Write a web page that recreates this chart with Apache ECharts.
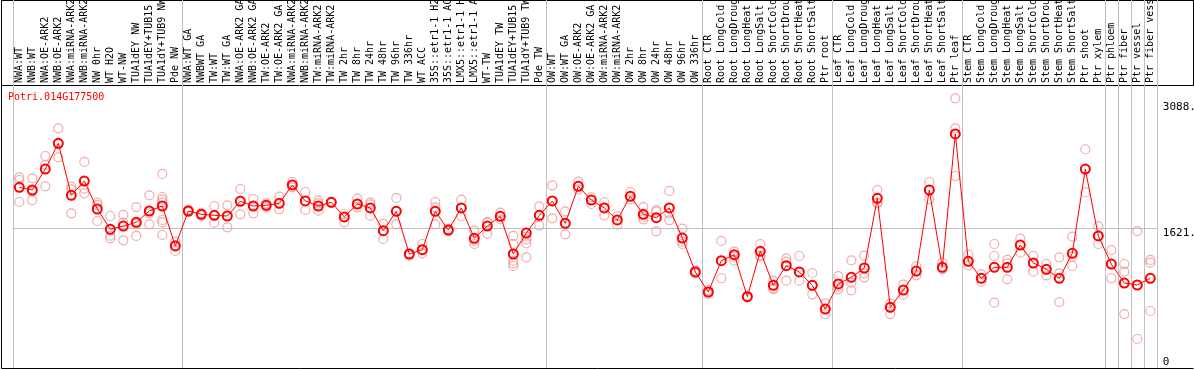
<!DOCTYPE html>
<html>
<head>
<meta charset="utf-8">
<script src="https://cdn.jsdelivr.net/npm/echarts@6/dist/echarts.min.js"></script>
<style>
html,body{margin:0;padding:0;background:#fff;}
#chart{width:1194px;height:370px;}
</style>
</head>
<body>
<div id="chart"></div>
<script>
const categories = [
 'NWA:WT','NWB:WT','NWA:OE-ARK2','NWB:OE-ARK2','NWA:miRNA-ARK2','NWB:miRNA-ARK2','NW 0hr','WT H2O','WT-NW','TUA1dEY NW','TUA1dEY+TUB15 NW','TUA1dY+TUB9 NW','Pde NW',
 'NWA:WT GA','NWBWT GA','TW:WT','TW:WT GA','NWA:OE-ARK2 GA','NWB:OE-ARK2 GA','TW:OE-ARK2','TW:OE-ARK2 GA','NWA:miRNA-ARK2','NWB:miRNA-ARK2','TW:miRNA-ARK2','TW:miRNA-ARK2',
 'TW 2hr','TW 8hr','TW 24hr','TW 48hr','TW 96hr','TW 336hr','WT ACC','35S::etr1-1 H2O','35S::etr1-1 ACC','LMX5::etr1-1 H2O','LMX5::etr1-1 ACC','WT-TW','TUA1dEY TW','TUA1dEY+TUB15 TW','TUA1dY+TUB9 TW','Pde TW',
 'OW:WT','OW:WT GA','OW:OE-ARK2','OW:OE-ARK2 GA','OW:miRNA-ARK2','OW:miRNA-ARK2','OW 2hr','OW 8hr','OW 24hr','OW 48hr','OW 96hr','OW 336hr',
 'Root CTR','Root LongCold','Root LongDrought','Root LongHeat','Root LongSalt','Root ShortCold','Root ShortDrought','Root ShortHeat','Root ShortSalt','Ptr root',
 'Leaf CTR','Leaf LongCold','Leaf LongDrought','Leaf LongHeat','Leaf LongSalt','Leaf ShortCold','Leaf ShortDrought','Leaf ShortHeat','Leaf ShortSalt','Ptr leaf',
 'Stem CTR','Stem LongCold','Stem LongDrought','Stem LongHeat','Stem LongSalt','Stem ShortCold','Stem ShortDrought','Stem ShortHeat','Stem ShortSalt','Ptr shoot','Ptr xylem',
 'Ptr phloem','Ptr fiber','Ptr vessel','Ptr fiber vessel'
];

// index of the first category of each group (separator lines drawn before them)
const groupStarts = [0, 13, 41, 53, 63, 73, 84, 85, 86, 87];

const meanValues = [
 2092, 2061, 2304, 2602, 2000, 2165, 1841, 1606, 1644, 1687,
 1818, 1876, 1413, 1818, 1780, 1768, 1760, 1930, 1876, 1884,
 1907, 2119, 1934, 1876, 1919, 1749, 1899, 1853, 1590, 1814,
 1320, 1370, 1814, 1598, 1853, 1502, 1644, 1757, 1320, 1563,
 1768, 1934, 1675, 2104, 1945, 1853, 1714, 1988, 1780, 1741,
 1853, 1505, 1112, 880, 1243, 1312, 826, 1351, 957, 1185,
 1112, 957, 683, 973, 1050, 1158, 1965, 703, 903, 1123,
 2061, 1166, 2710, 1235, 1039, 1166, 1166, 1424, 1216, 1143,
 1039, 1328, 2304, 1529, 1204, 984, 961, 1039
];

const replicateValues = [
 [2208,2177,1922],[2196,2042,1945],[2455,2351,2104],[2775,2591,2440],[2100,2069,1791],
 [2386,2077,2023],[1914,1888,1702],[1760,1532,1502],[1772,1683,1478],[1864,1668,1529],
 [2000,1791,1664],[2247,1980,1949,1919,1714,1687,1540],[1463,1420,1355],[1830,1815,1805],[1791,1783,1760],
 [1876,1760,1683],[1884,1760,1629],[2073,1937,1780],[1957,1876,1791],[1907,1884,1861],
 [1984,1907,1838],[2154,2119,2092],[2038,1934,1830],[1942,1907,1822],[1925,1919,1913],
 [1783,1749,1687],[1961,1899,1861],[1919,1895,1764],[1668,1590,1494],[1969,1814,1664],
 [1328,1320,1301],[1436,1370,1328],[1922,1861,1664],[1610,1598,1586],[1949,1853,1757],
 [1590,1475,1436],[1687,1690,1556],[1799,1757,1722],[1529,1436,1243,1212,1181],[1521,1490,1444,1282],
 [1872,1768,1648],[2115,1934,1733],[1814,1675,1548],[2158,2104,2069],[1977,1945,1899],
 [1922,1853,1768],[1760,1714,1660],[2038,1988,1953],[1864,1749,1722],[1830,1810,1583],
 [2050,1791,1710],[1613,1463,1436],[1130,1112,1095],[903,880,857],[1471,1243,1039],
 [1347,1289,1243],[834,826,818],[1436,1305,1289],[1011,926,911],[1270,1231,1011],
 [1297,1112,1011],[1100,957,853],[749,683,625],[1065,942,911],[1247,988,900],
 [1301,1096,1050],[2061,1914,1907],[749,703,625],[965,903,849],[1181,1123,1073],
 [2154,2061,1953],[1220,1166,1143],[3123,2775,2223],[1312,1235,1189],[1088,1039,1000],
 [1436,1297,756],[1251,1212,1027],[1498,1424,1335],[1297,1216,1115],[1204,1143,1073],
 [1282,1096,764],[1521,1289,1181],[2533,2304,2035],[1644,1529,1436],[1366,1204,1039],
 [1204,1115,625],[1586,961,336],[1251,1220,660]
];

const yTickValues = [0, 1621, 3088];
const yTickLabels = ['0', '1621.', '3088.'];
const referenceLine = 1621;
const yMax = 3277;
const geneName = 'Potri.014G177500';

const FONT = "'DejaVu Sans Mono', 'Liberation Mono', monospace";

const scatterData = [];
replicateValues.forEach((arr, i) => arr.forEach(v => scatterData.push([i, v])));

function tickLabel(v) {
  const i = yTickValues.indexOf(v);
  return i >= 0 ? yTickLabels[i] : '';
}

const chart = echarts.init(document.getElementById('chart'), null, {renderer: 'canvas'});
const W = 1194, H = 370;
const option = {
  animation: false,
  backgroundColor: '#ffffff',
  title: {
    text: geneName, left: 8, top: 92, padding: 0,
    textStyle: {color: '#ff0000', fontSize: 10, fontWeight: 'normal', fontFamily: FONT}
  },
  grid: [
    {left: 12.8, right: 37.2, top: 0, bottom: 2, outerBoundsMode: 'none', containLabel: false},
    {left: 12.8, right: 37.2, top: 85, bottom: 2, outerBoundsMode: 'none', containLabel: false}
  ],
  xAxis: [
    {
      gridIndex: 0, type: 'category', data: categories, boundaryGap: true,
      axisLine: {show: false}, axisTick: {show: false}, axisLabel: {show: false},
      splitLine: {show: true, interval: (idx) => groupStarts.indexOf(idx) >= 0,
                  lineStyle: {color: '#c0c0c0', width: 1}}
    },
    {
      gridIndex: 1, type: 'category', data: categories, boundaryGap: true, position: 'top',
      axisLine: {show: false}, axisTick: {show: false},
      axisLabel: {interval: 0, rotate: 90, margin: 2, fontSize: 10, fontFamily: FONT, color: '#000'},
      splitLine: {show: false}
    }
  ],
  yAxis: [
    {gridIndex: 0, type: 'value', show: false, min: 0, max: 1},
    {
      gridIndex: 1, type: 'value', position: 'right', min: 0, max: yMax,
      axisLine: {show: false}, axisTick: {show: false}, splitLine: {show: false},
      axisLabel: {customValues: yTickValues.filter(v => v > 0), formatter: tickLabel,
                  verticalAlign: 'top', align: 'left', margin: 6,
                  fontSize: 11, fontFamily: FONT, color: '#000'}
    },
    {
      gridIndex: 1, type: 'value', position: 'right', min: 0, max: yMax,
      axisLine: {show: false}, axisTick: {show: false}, splitLine: {show: false},
      axisLabel: {customValues: yTickValues.filter(v => v === 0), formatter: tickLabel,
                  verticalAlign: 'bottom', align: 'left', margin: 6,
                  fontSize: 11, fontFamily: FONT, color: '#000'}
    }
  ],
  series: [
    {
      type: 'scatter', xAxisIndex: 1, yAxisIndex: 1, data: scatterData,
      symbol: 'circle', symbolSize: 9, z: 3,
      itemStyle: {color: 'rgba(0,0,0,0)', borderColor: '#f09696', borderWidth: 1.2}
    },
    {
      type: 'line', xAxisIndex: 1, yAxisIndex: 1, data: meanValues,
      symbol: 'circle', symbolSize: 9, showAllSymbol: true, z: 4,
      lineStyle: {color: '#ff0000', width: 1},
      itemStyle: {color: 'rgba(0,0,0,0)', borderColor: '#ff0000', borderWidth: 2},
      markLine: {
        silent: true, symbol: 'none', label: {show: false}, z: 1,
        lineStyle: {color: '#c0c0c0', type: 'solid', width: 1},
        data: [{yAxis: referenceLine}]
      }
    }
  ],
  graphic: [
    {type: 'line', silent: true, shape: {x1: 1.5, y1: 0.5, x2: W - 0.5, y2: 0.5}, style: {stroke: '#000', lineWidth: 1}},
    {type: 'line', silent: true, shape: {x1: 1.5, y1: 85.5, x2: W - 0.5, y2: 85.5}, style: {stroke: '#000', lineWidth: 1}},
    {type: 'line', silent: true, shape: {x1: 1.5, y1: 0, x2: 1.5, y2: 368.5}, style: {stroke: '#000', lineWidth: 1}},
    {type: 'line', silent: true, shape: {x1: W - 0.5, y1: 0, x2: W - 0.5, y2: 85.5}, style: {stroke: '#000', lineWidth: 1}},
    {type: 'line', silent: true, shape: {x1: 1.5, y1: 368.5, x2: W - 0.5, y2: 368.5}, style: {stroke: '#000', lineWidth: 1}}
  ]
};
chart.setOption(option);
</script>
</body>
</html>
